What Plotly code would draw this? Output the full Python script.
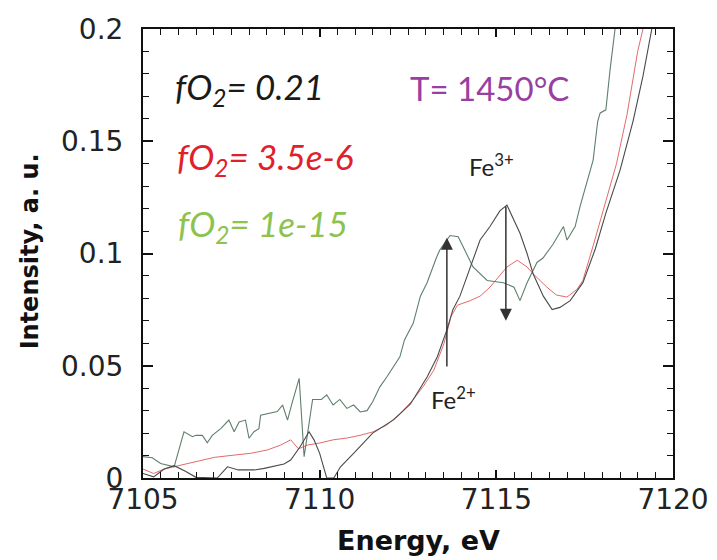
import plotly.graph_objects as go

# ---- data ----
energy_green = [7105.0, 7105.26, 7105.5, 7105.88, 7106.16, 7106.4, 7106.5, 7106.68, 7106.82, 7106.96,
                7107.2, 7107.43, 7107.58, 7107.72, 7107.9, 7108.0, 7108.14, 7108.28, 7108.33, 7108.6,
                7108.8, 7108.95, 7109.09, 7109.23, 7109.42, 7109.56, 7109.8, 7110.05, 7110.2, 7110.38,
                7110.57, 7110.77, 7110.96, 7111.15, 7111.34, 7111.5, 7111.7, 7111.9, 7112.08, 7112.27,
                7112.4, 7112.65, 7112.85, 7113.04, 7113.3, 7113.4, 7113.69, 7113.92, 7114.06, 7114.34,
                7114.74, 7115.2, 7115.5, 7115.67, 7115.87, 7116.15, 7116.32, 7116.6, 7116.9, 7117.0,
                7117.23, 7117.37, 7117.74, 7117.87, 7117.94, 7118.1, 7118.22, 7118.36, 7118.5]
intensity_green = [0.0095, 0.009, 0.0065, 0.005, 0.0206, 0.0184, 0.019, 0.019, 0.0157, 0.019,
                   0.022, 0.0258, 0.0206, 0.025, 0.0258, 0.0177, 0.0206, 0.022, 0.028, 0.0288,
                   0.0296, 0.0325, 0.0258, 0.034, 0.0444, 0.0095, 0.035, 0.035, 0.037, 0.0325,
                   0.035, 0.031, 0.0325, 0.0294, 0.030, 0.034, 0.0405, 0.045, 0.0494, 0.054,
                   0.0615, 0.069, 0.081, 0.087, 0.098, 0.1016, 0.108, 0.1075, 0.103, 0.094,
                   0.088, 0.087, 0.085, 0.079, 0.087, 0.096, 0.098, 0.104, 0.112, 0.106,
                   0.112, 0.121, 0.1416, 0.159, 0.1626, 0.164, 0.182, 0.2, 0.21]

energy_black = [7105.0, 7105.3, 7105.6, 7105.88, 7106.2, 7106.5, 7107.1, 7107.39, 7107.7, 7108.15,
                7108.43, 7108.71, 7108.99, 7109.18, 7109.45, 7109.7, 7109.84, 7110.0, 7110.2, 7110.4,
                7110.59, 7110.96, 7111.5, 7112.1, 7112.57, 7113.04, 7113.33, 7113.6, 7113.77, 7113.97,
                7114.2, 7114.54, 7114.82, 7115.1, 7115.3, 7115.47, 7115.67, 7115.87, 7116.04, 7116.33,
                7116.58, 7116.8, 7117.09, 7117.45, 7117.8, 7118.1, 7118.5, 7118.87, 7119.15, 7119.4, 7119.5]
intensity_black = [0.002, 0.0005, 0.004, 0.0055, 0.003, 0.0003, 0.0, 0.005, 0.0036, 0.0036,
                   0.0043, 0.0053, 0.0062, 0.008, 0.014, 0.0206, 0.017, 0.011, 0.0, 0.0,
                   0.005, 0.011, 0.020, 0.026, 0.033, 0.045, 0.054, 0.066, 0.075, 0.081,
                   0.091, 0.106, 0.112, 0.119, 0.1216, 0.116, 0.109, 0.100, 0.091, 0.081,
                   0.075, 0.076, 0.079, 0.087, 0.102, 0.118, 0.137, 0.159, 0.179, 0.2, 0.21]

energy_red = [7105.0, 7105.3, 7105.6, 7105.88, 7106.45, 7107.02, 7107.58, 7108.05, 7108.52, 7108.9,
              7109.18, 7109.4, 7109.66, 7110.01, 7110.38, 7110.77, 7111.14, 7111.5, 7111.9, 7112.3,
              7112.65, 7112.94, 7113.23, 7113.52, 7113.72, 7113.9, 7114.26, 7114.54, 7114.82, 7115.3,
              7115.59, 7115.87, 7116.04, 7116.43, 7116.7, 7117.0, 7117.28, 7117.45, 7117.75, 7118.1,
              7118.4, 7118.7, 7119.0, 7119.15, 7119.3]
intensity_red = [0.004, 0.002, 0.004, 0.005, 0.0073, 0.0092, 0.0102, 0.011, 0.0125, 0.0147,
                 0.017, 0.013, 0.0147, 0.0156, 0.017, 0.0178, 0.019, 0.0205, 0.0236, 0.029,
                 0.035, 0.041, 0.048, 0.060, 0.072, 0.077, 0.079, 0.081, 0.085, 0.094,
                 0.097, 0.094, 0.091, 0.085, 0.0815, 0.0806, 0.084, 0.088, 0.104, 0.124,
                 0.14, 0.162, 0.19, 0.2, 0.21]

x_ticks = [7105, 7110, 7115, 7120]
y_ticks = [0, 0.05, 0.1, 0.15, 0.2]
y_tick_labels = ["0", "0.05", "0.1", "0.15", "0.2"]

fe2_arrow_energy = 7113.6
fe2_arrow_from, fe2_arrow_to = 0.049, 0.107
fe3_arrow_energy = 7115.27
fe3_arrow_from, fe3_arrow_to = 0.1216, 0.070

# ---- figure ----
fig = go.Figure()
fig.add_trace(go.Scatter(x=energy_red, y=intensity_red, mode="lines",
                         line=dict(color="#e36a6a", width=1), name="3.5e-6"))
fig.add_trace(go.Scatter(x=energy_green, y=intensity_green, mode="lines",
                         line=dict(color="#5f7f6c", width=1.1), name="1e-15"))
fig.add_trace(go.Scatter(x=energy_black, y=intensity_black, mode="lines",
                         line=dict(color="#4a4a4a", width=1.1), name="0.21"))

label_font = "Lato, Open Sans, sans-serif"
ann = []
ann.append(dict(xref="paper", yref="paper", x=0.056, y=0.868, xanchor="left", yanchor="middle",
                text="<i>fO<sub>2</sub>= 0.21</i>", showarrow=False,
                font=dict(family=label_font, size=35, color="#1a1a1a")))
ann.append(dict(xref="paper", yref="paper", x=0.06, y=0.712, xanchor="left", yanchor="middle",
                text="<i>fO<sub>2</sub>= 3.5e-6</i>", showarrow=False,
                font=dict(family=label_font, size=35, color="#e0202c")))
ann.append(dict(xref="paper", yref="paper", x=0.062, y=0.563, xanchor="left", yanchor="middle",
                text="<i>fO<sub>2</sub>= 1e-15</i>", showarrow=False,
                font=dict(family=label_font, size=35, color="#8cc24e")))
ann.append(dict(xref="paper", yref="paper", x=0.5, y=0.868, xanchor="left", yanchor="middle",
                text="T= 1450°C", showarrow=False,
                font=dict(family=label_font, size=33, color="#9a3fa2")))
ann.append(dict(xref="paper", yref="paper", x=0.612, y=0.697, xanchor="left", yanchor="middle",
                text="Fe<sup>3+</sup>", showarrow=False,
                font=dict(family=label_font, size=24, color="#222222")))
ann.append(dict(xref="paper", yref="paper", x=0.54, y=0.178, xanchor="left", yanchor="middle",
                text="Fe<sup>2+</sup>", showarrow=False,
                font=dict(family=label_font, size=24, color="#222222")))
# axis titles
ann.append(dict(xref="paper", yref="paper", x=0.52, y=-0.14, xanchor="center", yanchor="middle",
                text="<b>Energy, eV</b>", showarrow=False,
                font=dict(family="DejaVu Sans", size=27, color="#111111")))
ann.append(dict(xref="paper", yref="paper", x=-0.213, y=0.505, xanchor="center", yanchor="middle",
                text="<b>Intensity, a. u.</b>", showarrow=False, textangle=-90,
                font=dict(family="DejaVu Sans", size=24, color="#111111")))
# arrows
ann.append(dict(x=fe2_arrow_energy, y=fe2_arrow_to, ax=fe2_arrow_energy, ay=fe2_arrow_from,
                xref="x", yref="y", axref="x", ayref="y", text="", showarrow=True,
                arrowhead=2, arrowsize=1.6, arrowwidth=1.5, arrowcolor="#333333"))
ann.append(dict(x=fe3_arrow_energy, y=fe3_arrow_to, ax=fe3_arrow_energy, ay=fe3_arrow_from,
                xref="x", yref="y", axref="x", ayref="y", text="", showarrow=True,
                arrowhead=2, arrowsize=1.6, arrowwidth=1.5, arrowcolor="#333333"))

tick_font = dict(family="DejaVu Sans", size=28, color="#222222")
fig.update_layout(
    width=717, height=560, autosize=False,
    margin=dict(l=143, r=44, t=29, b=82),
    paper_bgcolor="white", plot_bgcolor="white",
    showlegend=False,
    annotations=ann,
    xaxis=dict(range=[7105, 7120], tickvals=x_ticks, ticks="inside", ticklen=8, tickwidth=1.5,
               tickcolor="#111", showline=True, linecolor="#111", linewidth=2, mirror="ticks",
               showgrid=False, zeroline=False, tickfont=tick_font, automargin=False,
               ticklabelstandoff=-5, ticklabeloverflow="allow",
               minor=dict(dtick=0.5, ticks="inside", ticklen=6, tickwidth=1.3, tickcolor="#111", showgrid=False)),
    yaxis=dict(range=[0, 0.2], tickvals=y_ticks, ticktext=y_tick_labels, ticks="inside", ticklen=10,
               tickwidth=1.5, tickcolor="#111", showline=True, linecolor="#111", linewidth=2,
               mirror="ticks", showgrid=False, zeroline=False, tickfont=tick_font, automargin=False,
               ticklabelstandoff=12, ticklabeloverflow="allow",
               minor=dict(dtick=0.01, ticks="inside", ticklen=6, tickwidth=1.3, tickcolor="#111", showgrid=False)),
)

# remove the browser's default 8 px body margin so the 717x560 figure fills the window exactly
fig.write_html("out.html", config={"displayModeBar": False},
               post_script="document.body.style.margin='0px';document.body.style.overflow='hidden';")
